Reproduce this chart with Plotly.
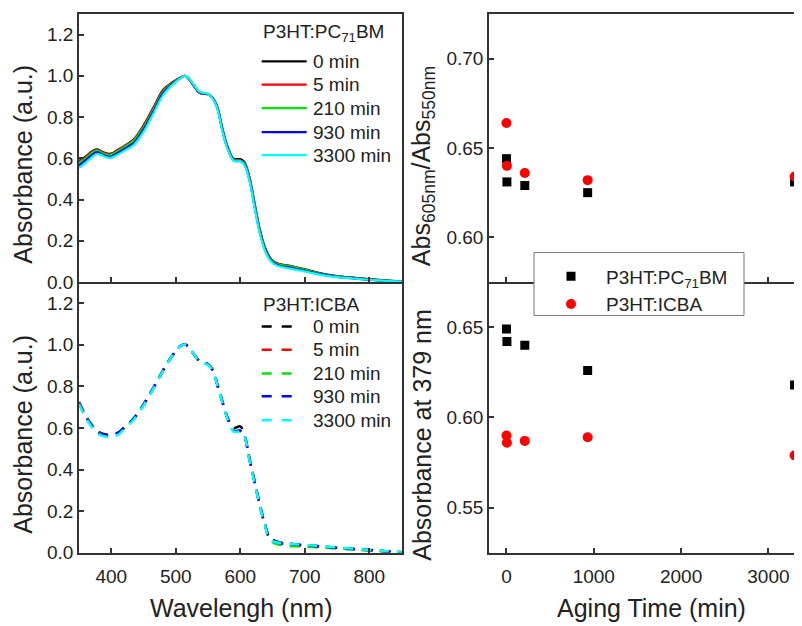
import plotly.graph_objects as go

# --- Data ---
WAVELENGTH = [350, 360, 370, 378, 385, 398, 410, 420, 435, 450, 465, 480, 490, 500, 507,
              514, 520, 528, 537, 550, 558, 565, 572, 580, 590, 600, 606, 614, 622, 630,
              638, 645, 652, 662, 675, 690, 705, 725, 750, 775, 800, 825, 850]

TIMES = ["0 min", "5 min", "210 min", "930 min", "3300 min"]
COLORS = ["#000000", "#ff0000", "#00e600", "#0000ff", "#00ffff"]

# P3HT:PC71BM spectra (normalised)
PCBM_0 = [0.586, 0.608, 0.633, 0.643, 0.633, 0.621, 0.640, 0.659, 0.692, 0.759, 0.843, 0.930, 0.957, 0.978, 0.990,
          1.000, 0.986, 0.951, 0.917, 0.911, 0.890, 0.843, 0.748, 0.660, 0.597, 0.596, 0.583, 0.512, 0.386, 0.259,
          0.170, 0.123, 0.099, 0.086, 0.080, 0.069, 0.058, 0.042, 0.029, 0.021, 0.014, 0.008, 0.003]
PCBM_5 = [0.583, 0.605, 0.630, 0.640, 0.630, 0.618, 0.638, 0.658, 0.690, 0.756, 0.840, 0.927, 0.955, 0.977, 0.990,
          1.000, 0.986, 0.952, 0.918, 0.911, 0.889, 0.841, 0.745, 0.657, 0.593, 0.590, 0.578, 0.507, 0.380, 0.254,
          0.166, 0.120, 0.097, 0.084, 0.077, 0.066, 0.056, 0.040, 0.028, 0.020, 0.013, 0.007, 0.003]
PCBM_210 = [0.577, 0.600, 0.626, 0.637, 0.627, 0.615, 0.634, 0.654, 0.686, 0.750, 0.834, 0.922, 0.952, 0.975, 0.989,
            1.000, 0.987, 0.953, 0.919, 0.911, 0.888, 0.840, 0.743, 0.655, 0.591, 0.588, 0.576, 0.504, 0.376, 0.250,
            0.163, 0.118, 0.095, 0.083, 0.077, 0.066, 0.055, 0.040, 0.027, 0.019, 0.012, 0.007, 0.003]
PCBM_930 = [0.566, 0.590, 0.616, 0.630, 0.620, 0.607, 0.626, 0.645, 0.675, 0.740, 0.825, 0.914, 0.947, 0.972, 0.988,
            1.000, 0.987, 0.954, 0.920, 0.911, 0.887, 0.838, 0.739, 0.651, 0.589, 0.586, 0.573, 0.499, 0.370, 0.245,
            0.159, 0.114, 0.091, 0.078, 0.071, 0.061, 0.051, 0.037, 0.025, 0.018, 0.011, 0.006, 0.002]
PCBM_3300 = [0.553, 0.578, 0.606, 0.622, 0.614, 0.601, 0.618, 0.636, 0.665, 0.728, 0.815, 0.905, 0.942, 0.970, 0.987,
             1.000, 0.988, 0.956, 0.922, 0.912, 0.886, 0.835, 0.735, 0.648, 0.588, 0.585, 0.570, 0.495, 0.365, 0.240,
             0.155, 0.110, 0.088, 0.074, 0.066, 0.057, 0.048, 0.035, 0.024, 0.017, 0.011, 0.006, 0.002]

# P3HT:ICBA spectra (normalised)
ICBA_0 = [0.724, 0.660, 0.613, 0.586, 0.573, 0.566, 0.575, 0.600, 0.645, 0.711, 0.790, 0.874, 0.926, 0.968, 0.992,
          1.000, 0.989, 0.953, 0.921, 0.905, 0.874, 0.803, 0.731, 0.652, 0.600, 0.607, 0.570, 0.458, 0.347, 0.236,
          0.141, 0.078, 0.060, 0.050, 0.044, 0.040, 0.037, 0.032, 0.025, 0.019, 0.013, 0.008, 0.003]
ICBA_5 = [0.722, 0.658, 0.611, 0.584, 0.571, 0.564, 0.574, 0.600, 0.645, 0.711, 0.790, 0.874, 0.926, 0.968, 0.992,
          1.000, 0.989, 0.953, 0.920, 0.904, 0.872, 0.800, 0.727, 0.647, 0.585, 0.585, 0.565, 0.453, 0.342, 0.232,
          0.137, 0.072, 0.053, 0.043, 0.037, 0.034, 0.031, 0.027, 0.022, 0.017, 0.012, 0.007, 0.003]
ICBA_210 = [0.721, 0.657, 0.610, 0.583, 0.570, 0.563, 0.573, 0.599, 0.644, 0.710, 0.789, 0.873, 0.925, 0.968, 0.992,
            1.000, 0.989, 0.953, 0.920, 0.904, 0.872, 0.800, 0.727, 0.646, 0.584, 0.584, 0.564, 0.452, 0.341, 0.230,
            0.135, 0.068, 0.048, 0.038, 0.033, 0.031, 0.029, 0.026, 0.021, 0.016, 0.011, 0.007, 0.003]
ICBA_930 = [0.720, 0.656, 0.609, 0.582, 0.569, 0.566, 0.576, 0.601, 0.646, 0.711, 0.790, 0.874, 0.926, 0.969, 0.993,
            1.000, 0.989, 0.953, 0.920, 0.904, 0.872, 0.800, 0.728, 0.648, 0.586, 0.586, 0.566, 0.454, 0.343, 0.233,
            0.138, 0.074, 0.056, 0.046, 0.041, 0.038, 0.035, 0.030, 0.024, 0.018, 0.013, 0.008, 0.003]
ICBA_3300 = [0.715, 0.651, 0.603, 0.576, 0.563, 0.556, 0.566, 0.594, 0.640, 0.707, 0.787, 0.872, 0.925, 0.968, 0.992,
             1.000, 0.989, 0.953, 0.919, 0.902, 0.870, 0.798, 0.725, 0.645, 0.582, 0.582, 0.562, 0.450, 0.339, 0.229,
             0.134, 0.070, 0.054, 0.047, 0.043, 0.040, 0.037, 0.032, 0.026, 0.020, 0.014, 0.009, 0.004]

PCBM_SPECTRA = [PCBM_0, PCBM_5, PCBM_210, PCBM_930, PCBM_3300]
ICBA_SPECTRA = [ICBA_0, ICBA_5, ICBA_210, ICBA_930, ICBA_3300]

# Aging series
AGING_TIME = [0, 5, 210, 930, 3300]
RATIO_PCBM = [0.644, 0.631, 0.629, 0.625, 0.631]
RATIO_ICBA = [0.664, 0.640, 0.636, 0.632, 0.634]
ABS379_PCBM = [0.649, 0.642, 0.640, 0.626, 0.618]
ABS379_ICBA = [0.590, 0.586, 0.587, 0.589, 0.579]

# page body keeps an 8px margin, so the figure is laid out in page pixels minus that offset
OFF = 8
W, H = 802 - OFF, 626 - OFF
FONT = "Liberation Sans, Arial, sans-serif"
AX = "#333333"
TXT = "#222222"


def px_x(p):
    return (p - OFF) / W


def px_y(p):
    return 1 - (p - OFF) / H


fig = go.Figure()

for name, color, ys in zip(TIMES, COLORS, PCBM_SPECTRA):
    fig.add_trace(go.Scatter(x=WAVELENGTH, y=ys, mode="lines", name=name, line=dict(color=color, width=2.2),
                             line_shape="spline", xaxis="x", yaxis="y", showlegend=False))

for name, color, ys in zip(TIMES, COLORS, ICBA_SPECTRA):
    fig.add_trace(go.Scatter(x=WAVELENGTH, y=ys, mode="lines", name=name,
                             line=dict(color=color, width=2.5, dash="10px,8px"),
                             line_shape="spline", xaxis="x2", yaxis="y2", showlegend=False))

fig.add_trace(go.Scatter(x=AGING_TIME, y=RATIO_PCBM, mode="markers", name="P3HT:PC<sub>71</sub>BM",
                         marker=dict(symbol="square", size=9, color="black"), xaxis="x3", yaxis="y3"))
fig.add_trace(go.Scatter(x=AGING_TIME, y=RATIO_ICBA, mode="markers", name="P3HT:ICBA",
                         marker=dict(symbol="circle", size=10, color="#ff0000"), xaxis="x3", yaxis="y3"))
fig.add_trace(go.Scatter(x=AGING_TIME, y=ABS379_PCBM, mode="markers", showlegend=False,
                         marker=dict(symbol="square", size=9, color="black"), xaxis="x4", yaxis="y4"))
fig.add_trace(go.Scatter(x=AGING_TIME, y=ABS379_ICBA, mode="markers", showlegend=False,
                         marker=dict(symbol="circle", size=10, color="#ff0000"), xaxis="x4", yaxis="y4"))

left_dom = [px_x(79), px_x(401.5)]
right_dom = [px_x(489), 1.0]
top_dom = [px_y(287), px_y(14)]
bot_dom = [px_y(562.7), px_y(287)]

axis_common = dict(showline=True, linecolor=AX, linewidth=1.5, ticks="inside", ticklen=5, tickwidth=1.5,
                   tickcolor=AX, showgrid=False, zeroline=False, tickfont=dict(size=19, color=TXT))

fig.update_layout(
    width=W, height=H,
    margin=dict(l=0, r=0, t=0, b=0),
    paper_bgcolor="white", plot_bgcolor="white",
    font=dict(family=FONT, color=TXT),
    xaxis=dict(domain=left_dom, anchor="y", range=[350, 850], tickvals=[400, 500, 600, 700, 800],
               showticklabels=False, mirror=True, **axis_common),
    yaxis=dict(domain=top_dom, anchor="x", range=[0, 1.3], tickvals=[0, 0.2, 0.4, 0.6, 0.8, 1.0, 1.2],
               tickformat=".1f", mirror=True, **axis_common),
    xaxis2=dict(domain=left_dom, anchor="y2", range=[350, 850], tickvals=[400, 500, 600, 700, 800],
                ticklabelstandoff=6, **axis_common),
    yaxis2=dict(domain=bot_dom, anchor="x2", range=[0, 1.3], tickvals=[0, 0.2, 0.4, 0.6, 0.8, 1.0, 1.2],
                tickformat=".1f", mirror=True, **axis_common),
    xaxis3=dict(domain=right_dom, anchor="y3", range=[-200, 3385], tickvals=[0, 1000, 2000, 3000],
                showticklabels=False, mirror=True, **axis_common),
    yaxis3=dict(domain=top_dom, anchor="x3", range=[0.575, 0.725], tickvals=[0.60, 0.65, 0.70],
                tickformat=".2f", **axis_common),
    xaxis4=dict(domain=right_dom, anchor="y4", range=[-200, 3385], tickvals=[0, 1000, 2000, 3000],
                ticklabelstandoff=6, **axis_common),
    yaxis4=dict(domain=bot_dom, anchor="x4", range=[0.525, 0.675], tickvals=[0.55, 0.60, 0.65],
                tickformat=".2f", **axis_common),
    legend=dict(x=px_x(536), y=px_y(262), xanchor="left", yanchor="top", bgcolor="rgba(0,0,0,0)",
                borderwidth=0, font=dict(size=19), itemwidth=60),
)

# white box behind the aging legend (covers the axis line, as in the original)
fig.add_shape(type="rect", xref="paper", yref="paper", x0=px_x(534), x1=px_x(744), y0=px_y(321), y1=px_y(257),
              fillcolor="white", line=dict(color="#777", width=1), layer="above")

# axis titles
titles = [
    ("Absorbance (a.u.)", 23, 167.5, -90),
    ("Absorbance (a.u.)", 23, 442.5, -90),
    ("Abs<sub>605nm</sub>/Abs<sub>550nm</sub>", 423, 169, -90),
    ("Absorbance at 379 nm", 422, 442.5, -90),
    ("Wavelengh (nm)", 241, 619, 0),
    ("Aging Time (min)", 651, 619, 0),
]
for text, x, y, ang in titles:
    fig.add_annotation(text=text, x=px_x(x), y=px_y(y), xref="paper", yref="paper", showarrow=False,
                       textangle=ang, font=dict(size=25, color=TXT), xanchor="center", yanchor="middle")

# keys for the two spectra panels
KEY_X0, TEXT_X = 261.7, 311.7
key_blocks = [
    ("P3HT:PC<sub>71</sub>BM", 33, [62.3, 86, 110, 134.3, 157.7], 306.7, "solid", 2.2),
    ("P3HT:ICBA", 310, [332.3, 356, 380, 403.3, 427.7], 291.7, "10px,10px", 2.5),
]
for title, ty, rows, x1, dash, lw in key_blocks:
    fig.add_annotation(text=title, x=px_x(KEY_X0 - 1), y=px_y(ty), xref="paper", yref="paper",
                       showarrow=False, xanchor="left", yanchor="middle", font=dict(size=19, color=TXT))
    for name, color, ry in zip(TIMES, COLORS, rows):
        fig.add_shape(type="line", xref="paper", yref="paper", x0=px_x(KEY_X0), x1=px_x(x1),
                      y0=px_y(ry), y1=px_y(ry), line=dict(color=color, width=lw, dash=dash))
        fig.add_annotation(text=name, x=px_x(TEXT_X - 1), y=px_y(ry), xref="paper", yref="paper",
                           showarrow=False, xanchor="left", yanchor="middle", font=dict(size=19, color=TXT))

fig.write_html("out.html")
